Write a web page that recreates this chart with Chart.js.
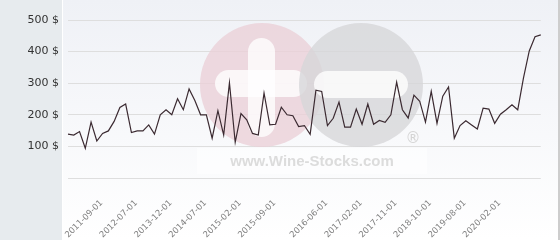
<!DOCTYPE html>
<html>
<head>
<meta charset="utf-8">
<script src="https://cdn.jsdelivr.net/npm/chart.js@4/dist/chart.umd.min.js"></script>
<style>
  html, body { margin: 0; padding: 0; background: #fff; }
  #wrap { width: 560px; height: 240px; position: relative; }
</style>
</head>
<body>
<div id="wrap"><canvas id="priceChart"></canvas></div>
<script>
// price history, one value per observation (left to right)
const prices = [139, 136, 147, 94, 177, 117, 141, 149, 179, 223,
                234, 144, 149, 149, 168, 139, 200, 216, 200, 251,
                216, 282, 245, 200, 200, 126, 213, 136, 301, 113,
                204, 184, 141, 136, 269, 168, 170, 224, 200, 197,
                163, 166, 138, 278, 274, 166, 189, 240, 161, 161,
                218, 170, 234, 170, 182, 176, 200, 303, 216, 190,
                262, 243, 177, 274, 173, 259, 288, 126, 166, 181,
                168, 155, 221, 218, 173, 202, 216, 232, 216, 317,
                402, 447, 453];

// dates shown under the axis and the observation each one sits at
const tickLabels = ['2011-09-01', '2012-07-01', '2013-12-01', '2014-07-01',
                    '2015-02-01', '2015-09-01', '2016-06-01', '2017-02-01',
                    '2017-11-01', '2018-10-01', '2019-08-01', '2020-02-01'];
const tickIndex = [6, 12, 18, 24, 30, 36, 45, 51, 57, 63, 69, 75];

const yTicks = [0, 100, 200, 300, 400, 500];

const labels = prices.map((p, i) => {
    const k = tickIndex.indexOf(i);
    return k >= 0 ? tickLabels[k] : '';
});

// page background: gradient, grey label strip, right border
const background = {
    id: 'background',
    beforeDraw(chart) {
        const { ctx, width, height } = chart;
        ctx.save();
        const g = ctx.createLinearGradient(0, 0, 0, height);
        g.addColorStop(0, '#eff1f6');
        g.addColorStop(1, '#ffffff');
        ctx.fillStyle = g;
        ctx.fillRect(0, 0, width, height);
        ctx.fillStyle = '#e7ebee';
        ctx.fillRect(0, 0, 62, height);
        ctx.fillStyle = '#ffffff';
        ctx.fillRect(62, 0, 1, height);
        ctx.fillStyle = '#cdcdcd';
        ctx.fillRect(width - 2, 0, 2, height);
        ctx.restore();
    }
};

function roundBar(ctx, x, y, w, h) {
    ctx.beginPath();
    ctx.roundRect(x, y, w, h, Math.min(w, h) / 2);
    ctx.fill();
}

// logo watermark behind the line
const watermark = {
    id: 'watermark',
    beforeDatasetsDraw(chart) {
        const ctx = chart.ctx;
        ctx.save();
        ctx.globalAlpha = 0.78;
        // pink circle with plus
        ctx.fillStyle = '#ebcfd7';
        ctx.beginPath();
        ctx.arc(262, 85, 62, 0, Math.PI * 2);
        ctx.fill();
        ctx.fillStyle = '#ffffff';
        roundBar(ctx, 215, 70, 92, 27);
        roundBar(ctx, 248, 38, 27, 99);
        // grey circle with minus
        ctx.fillStyle = '#d6d6d8';
        ctx.beginPath();
        ctx.arc(361, 85, 62, 0, Math.PI * 2);
        ctx.fill();
        ctx.fillStyle = '#ffffff';
        roundBar(ctx, 314, 71, 94, 27);
        // site name
        ctx.globalAlpha = 0.5;
        ctx.fillRect(197, 148, 230, 26);
        ctx.globalAlpha = 1;
        ctx.fillStyle = '#dcdcdc';
        ctx.font = 'bold 15px "Liberation Sans", Arial, sans-serif';
        ctx.textAlign = 'center';
        ctx.textBaseline = 'middle';
        ctx.fillText('www.Wine-Stocks.com', 312, 162);
        ctx.font = '15px "DejaVu Sans", sans-serif';
        ctx.fillStyle = '#d4d4d4';
        ctx.fillText('\u00ae', 413, 139);
        ctx.restore();
    }
};

new Chart(document.getElementById('priceChart'), {
    type: 'line',
    data: {
        labels: labels,
        datasets: [{
            data: prices,
            borderColor: '#3b2a31',
            borderWidth: 1.2,
            pointRadius: 0,
            tension: 0,
            fill: false
        }]
    },
    options: {
        responsive: true,
        maintainAspectRatio: false,
        animation: false,
        layout: { padding: { top: 20, right: 5, left: 0, bottom: 0 } },
        plugins: {
            legend: { display: false },
            tooltip: { enabled: false }
        },
        scales: {
            x: {
                afterFit: s => { s.height = 62; },
                grid: { display: false },
                border: { display: false },
                ticks: {
                    autoSkip: false,
                    minRotation: 45,
                    maxRotation: 45,
                    padding: 12,
                    labelOffset: -1,
                    color: '#808080',
                    font: { family: '"DejaVu Sans", sans-serif', size: 8.5 }
                }
            },
            y: {
                min: yTicks[0],
                max: yTicks[yTicks.length - 1],
                afterFit: s => { s.width = 68; },
                afterBuildTicks: s => { s.ticks = yTicks.map(v => ({ value: v })); },
                grid: { color: '#dedede', drawTicks: false },
                border: { display: false },
                ticks: {
                    padding: 9,
                    color: '#333',
                    font: { family: '"DejaVu Sans", sans-serif', size: 11 },
                    callback: v => v === 0 ? '' : v + ' $'
                }
            }
        }
    },
    plugins: [background, watermark]
});
</script>
</body>
</html>
